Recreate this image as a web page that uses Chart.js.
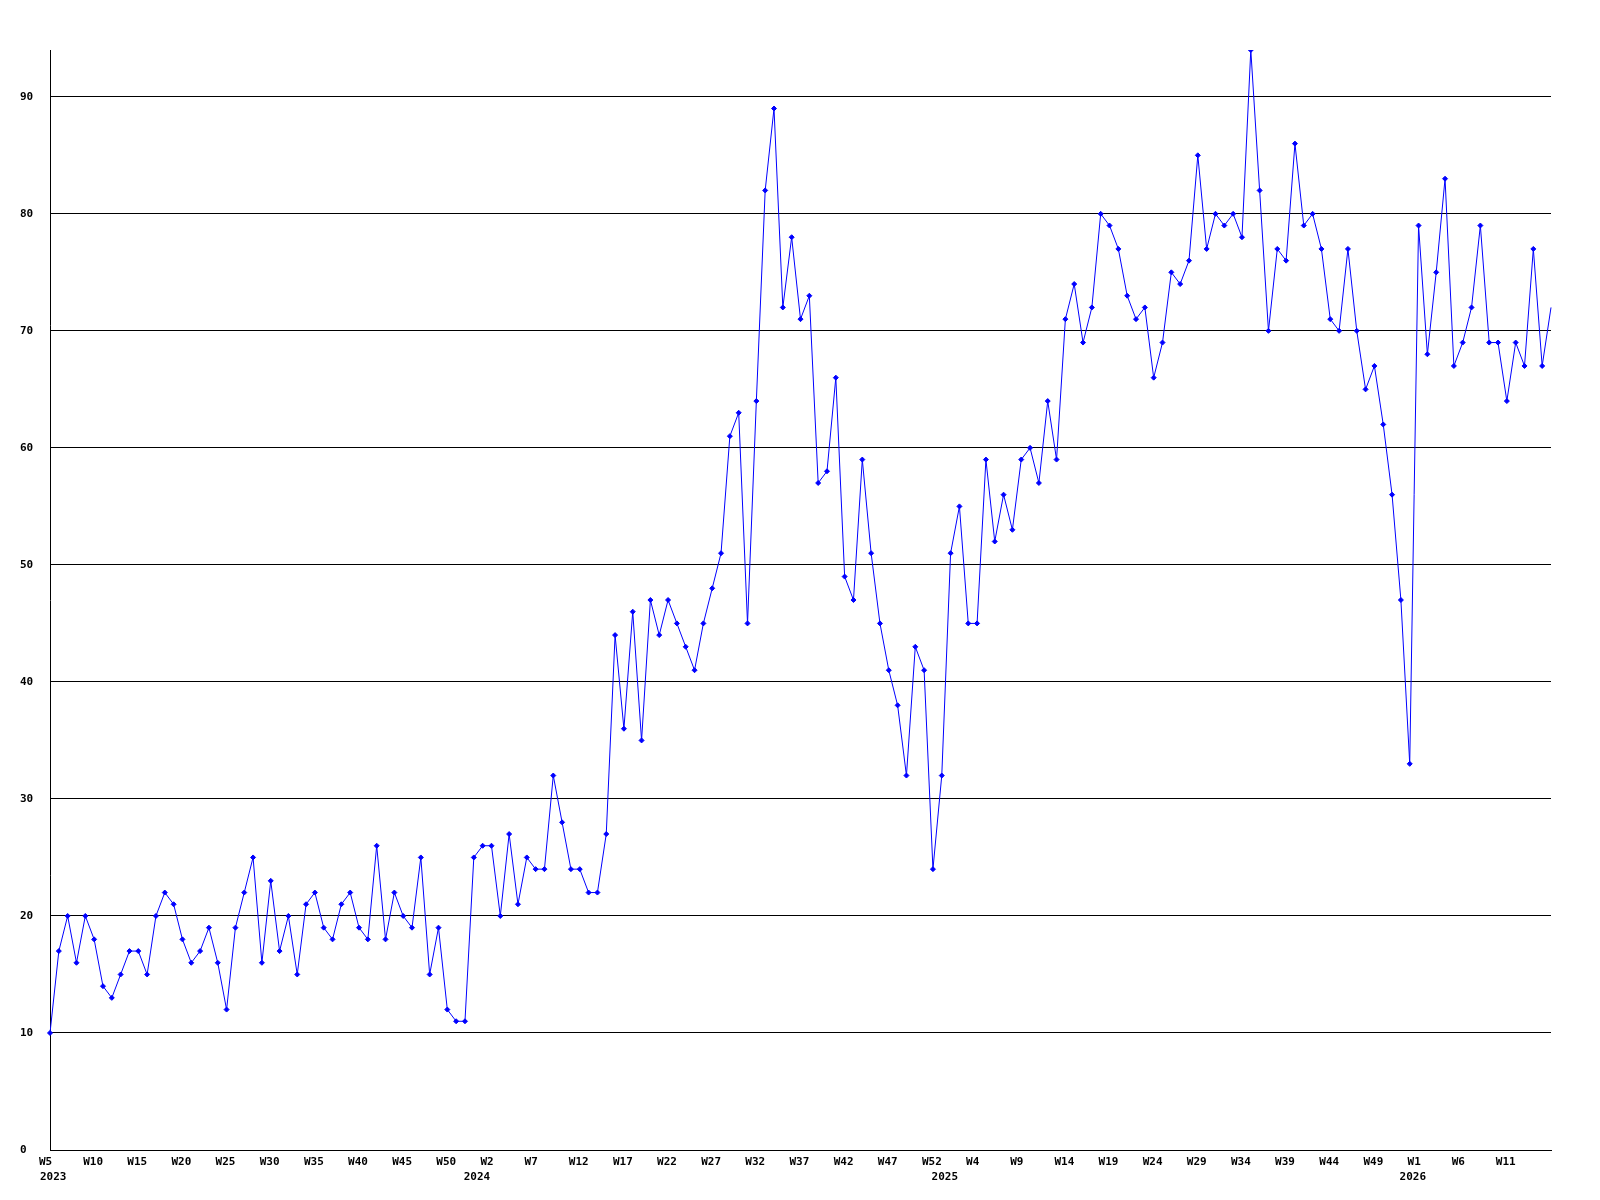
<!DOCTYPE html>
<html>
<head>
<meta charset="utf-8">
<script src="https://cdn.jsdelivr.net/npm/chart.js@4.4.0/dist/chart.umd.min.js"></script>
<style>html,body{margin:0;padding:0;background:#fff;}canvas{display:block;}</style>
</head>
<body>
<canvas id="c" width="1600" height="1200"></canvas>
<script>
// ---- data ----
const years = [2023, 2024, 2025, 2026];
const weeksPerYear = 53;
const firstWeek = 5;   // series starts at 2023 W5
const lastWeek = 16;   // series ends at 2026 W16
const tickEvery = 5;   // a week label every 5 weeks
const yTicks = [0, 10, 20, 30, 40, 50, 60, 70, 80, 90];
const yMax = 94;

const values = [
  10, 17, 20, 16, 20, 18, 14, 13, 15, 17, 17, 15, 20, 22, 21, 18, 16, 17, 19, 16,
  12, 19, 22, 25, 16, 23, 17, 20, 15, 21, 22, 19, 18, 21, 22, 19, 18, 26, 18, 22,
  20, 19, 25, 15, 19, 12, 11, 11, 25, 26, 26, 20, 27, 21, 25, 24, 24, 32, 28, 24,
  24, 22, 22, 27, 44, 36, 46, 35, 47, 44, 47, 45, 43, 41, 45, 48, 51, 61, 63, 45,
  64, 82, 89, 72, 78, 71, 73, 57, 58, 66, 49, 47, 59, 51, 45, 41, 38, 32, 43, 41,
  24, 32, 51, 55, 45, 45, 59, 52, 56, 53, 59, 60, 57, 64, 59, 71, 74, 69, 72, 80,
  79, 77, 73, 71, 72, 66, 69, 75, 74, 76, 85, 77, 80, 79, 80, 78, 94, 82, 70, 77,
  76, 86, 79, 80, 77, 71, 70, 77, 70, 65, 67, 62, 56, 47, 33, 79, 68, 75, 83, 67,
  69, 72, 79, 69, 69, 64, 69, 67, 77, 67, 72
];

// week categories (W1..W53 per year)
const categories = [];
const yearStart = [];   // category position of week 1 of each year
years.forEach((y, i) => {
  const from = i === 0 ? firstWeek : 1;
  const to = i === years.length - 1 ? lastWeek : weeksPerYear;
  yearStart.push(categories.length - (from - 1));
  for (let w = from; w <= to; w++) categories.push('W' + w);
});

const FONT = {family: '"DejaVu Sans Mono", monospace', size: 11, weight: 'bold', lineHeight: 1};

const yearLabels = {
  id: 'yearLabels',
  afterDraw(chart) {
    const xs = chart.scales.x;
    const ctx = chart.ctx;
    ctx.save();
    ctx.font = 'bold 11px "DejaVu Sans Mono", monospace';
    ctx.fillStyle = '#000';
    ctx.textAlign = 'left';
    ctx.textBaseline = 'middle';
    years.forEach((y, i) => {
      const px = xs.getPixelForValue(yearStart[i]);
      const left = Math.max(xs.left - 10, px - 19);
      ctx.fillText(String(y), left, chart.chartArea.bottom + 27);
    });
    ctx.restore();
  }
};

new Chart(document.getElementById('c'), {
  type: 'line',
  data: {
    labels: categories,
    datasets: [{
      data: values,
      borderColor: '#0000ff',
      borderWidth: 1,
      tension: 0,
      fill: false,
      pointStyle: 'rectRot',
      pointRadius: (c) => c.dataIndex === values.length - 1 ? 0 : 2.5,
      pointBackgroundColor: '#0000ff',
      pointBorderColor: '#0000ff',
      pointBorderWidth: 1
    }]
  },
  options: {
    responsive: false,
    animation: false,
    layout: {padding: {left: 20, right: 49, top: 50, bottom: 18}},
    plugins: {legend: {display: false}, tooltip: {enabled: false}},
    scales: {
      x: {
        type: 'category',
        offset: false,
        grid: {display: false, drawTicks: false},
        border: {display: true, color: '#000', width: 1},
        ticks: {
          autoSkip: false, maxRotation: 0, minRotation: 0,
          align: 'start', labelOffset: -11, padding: 7,
          color: '#000', font: FONT,
          callback: (v, i) => (i % tickEvery === 0 && i < categories.length - 1) ? categories[i] : null
        },
        afterFit: (s) => { s.height = 32; s.paddingLeft = 0; s.paddingRight = 0; }
      },
      y: {
        min: 0, max: yMax,
        afterBuildTicks: (s) => { s.ticks = yTicks.map(v => ({value: v})); },
        grid: {color: '#000', lineWidth: 1, drawTicks: false},
        border: {display: true, color: '#000', width: 1},
        ticks: {color: '#000', font: FONT, crossAlign: 'far', padding: 0},
        afterFit: (s) => { s.width = 30; s.paddingTop = 0; s.paddingBottom = 0; }
      }
    }
  },
  plugins: [yearLabels]
});
</script>
</body>
</html>
